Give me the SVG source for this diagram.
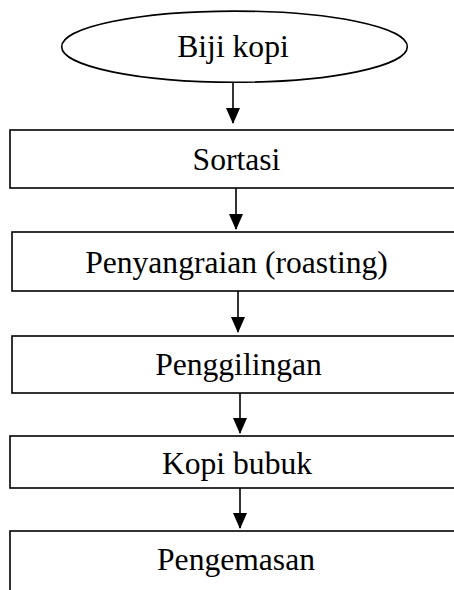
<svg xmlns="http://www.w3.org/2000/svg" width="454" height="590" viewBox="0 0 454 590">
<style>
.shape{fill:#fff;stroke:#000;stroke-width:1.6}
.lbl{font-family:"Liberation Serif","Times New Roman",serif;font-size:31.6px;fill:#000;text-anchor:middle}
.conn{stroke:#000;stroke-width:1.6;fill:none;marker-end:url(#ah)}
</style>
<defs>
<marker id="ah" markerUnits="userSpaceOnUse" markerWidth="16" markerHeight="14" viewBox="0 0 16 14" refX="15" refY="7" orient="auto">
<path d="M0,0 L16,7 L0,14 Z" fill="#000"/>
</marker>
</defs>
<rect width="454" height="590" fill="#fff"/>
<g id="n1"><ellipse class="shape" cx="234.5" cy="46.7" rx="172.8" ry="35.6"/><text class="lbl" x="233" y="57">Biji kopi</text></g>
<g id="n2"><rect class="shape" x="10" y="130" width="470" height="58"/><text class="lbl" x="236.5" y="169.5">Sortasi</text></g>
<g id="n3"><rect class="shape" x="12" y="232" width="470" height="59"/><text class="lbl" x="236.5" y="272.5">Penyangraian (roasting)</text></g>
<g id="n4"><rect class="shape" x="12" y="336" width="470" height="57"/><text class="lbl" x="238.5" y="375">Penggilingan</text></g>
<g id="n5"><rect class="shape" x="10" y="436" width="470" height="52"/><text class="lbl" x="237" y="474">Kopi bubuk</text></g>
<g id="n6"><rect class="shape" x="10" y="531" width="470" height="80"/><text class="lbl" x="236" y="570">Pengemasan</text></g>
<g id="connectors">
<line class="conn" x1="233" y1="82" x2="233" y2="123"/>
<line class="conn" x1="236" y1="188" x2="236" y2="229"/>
<line class="conn" x1="238" y1="291" x2="238" y2="332"/>
<line class="conn" x1="240" y1="393" x2="240" y2="433"/>
<line class="conn" x1="240" y1="488" x2="240" y2="528"/>
</g>
</svg>
